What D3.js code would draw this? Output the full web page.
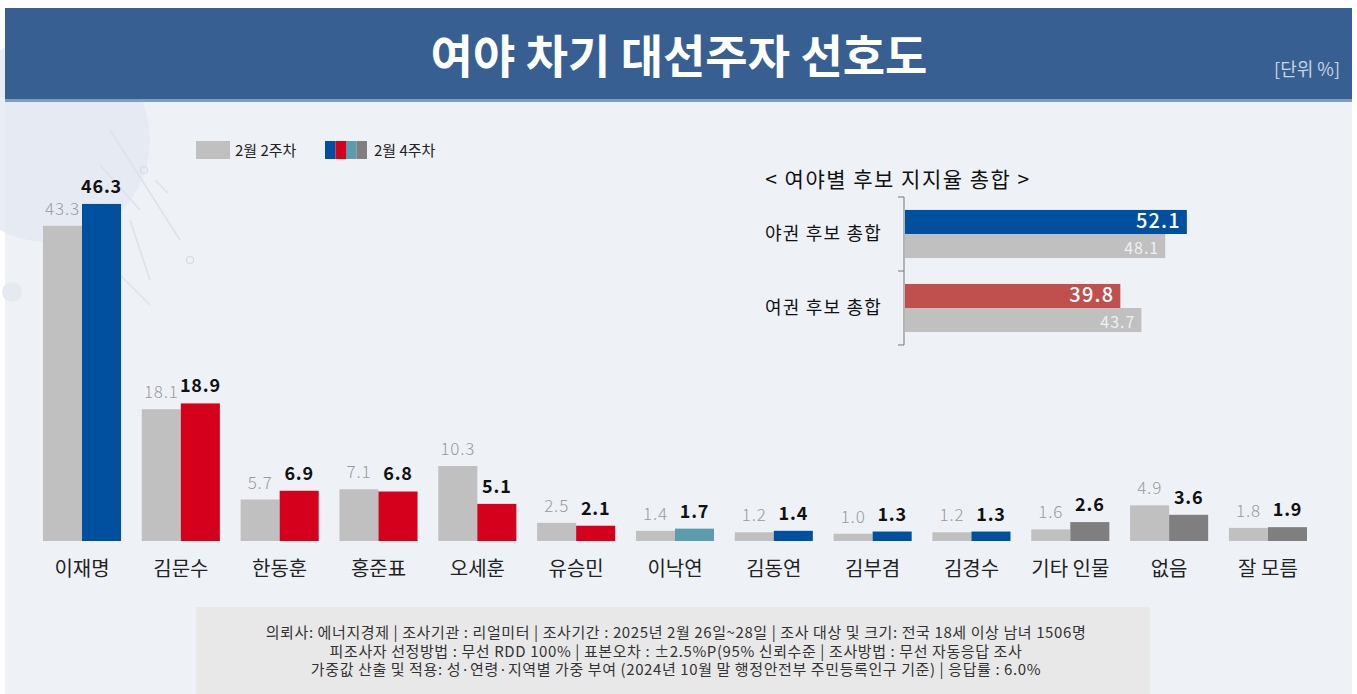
<!DOCTYPE html>
<html><head><meta charset="utf-8">
<script src="https://cdn.jsdelivr.net/npm/d3@7/dist/d3.min.js"></script>
<style>
html,body{margin:0;padding:0;background:#fff;}
svg{display:block;font-family:"Noto Sans CJK KR","Noto Sans",sans-serif;}
</style></head>
<body>
<svg id="c" width="1357" height="694"></svg>
<script>
// ---- data ----
const categories = ['이재명','김문수','한동훈','홍준표','오세훈','유승민','이낙연','김동연','김부겸','김경수','기타 인물','없음','잘 모름'];
const week2 = [43.3,18.1,5.7,7.1,10.3,2.5,1.4,1.2,1.0,1.2,1.6,4.9,1.8];
const week4 = [46.3,18.9,6.9,6.8,5.1,2.1,1.7,1.4,1.3,1.3,2.6,3.6,1.9];
const week4Group = ['opp','rul','rul','rul','rul','rul','teal','opp','opp','opp','etc','etc','etc'];
const seriesNames = ['2월 2주차','2월 4주차'];
const sumGroups = ['야권 후보 총합','여권 후보 총합'];
const sumWeek4 = [52.1, 39.8];
const sumWeek2 = [48.1, 43.7];
const footLines = [
  '의뢰사: 에너지경제  | 조사기관 : 리얼미터  |  조사기간 : 2025년 2월 26일~28일 | 조사 대상 및 크기: 전국 18세 이상 남녀 1506명',
  '피조사자 선정방법 : 무선 RDD 100% | 표본오차 : ±2.5%P(95% 신뢰수준 | 조사방법 : 무선 자동응답 조사',
  '가중값 산출 및 적용: 성·연령·지역별  가중 부여 (2024년 10월 말 행정안전부  주민등록인구  기준) | 응답률 : 6.0%'
];

const groupColor = {opp:'#0050a0', rul:'#d5001c', teal:'#5b9caf', etc:'#7f7f7f'};
const grayColor = '#c0c0c0';

const svg = d3.select('#c');

// ---- background ----
svg.append('rect').attr('x',5).attr('y',100).attr('width',1347).attr('height',594).attr('fill','#eef2f7');
const deco = svg.append('g');
deco.append('circle').attr('cx',48).attr('cy',140).attr('r',102).attr('fill','#e4e9f1').attr('opacity',0.8);
deco.append('circle').attr('cx',12).attr('cy',292).attr('r',10).attr('fill','#e5e9f0');
[[110,130,180,240],[100,165,140,210],[130,220,150,280],[120,275,150,305]].forEach(l=>{
  deco.append('line').attr('x1',l[0]).attr('y1',l[1]).attr('x2',l[2]).attr('y2',l[3]).attr('stroke','#dce2eb').attr('stroke-width',1.5);
});
deco.append('line').attr('x1',155).attr('y1',180).attr('x2',168).attr('y2',193).attr('stroke','#dce2eb').attr('stroke-width',1.5);
deco.append('circle').attr('cx',144).attr('cy',170).attr('r',3.5).attr('fill','none').attr('stroke','#d4dbe6').attr('stroke-width',1.2);
deco.append('circle').attr('cx',190).attr('cy',260).attr('r',3.5).attr('fill','none').attr('stroke','#d4dbe6').attr('stroke-width',1.2);

// ---- header ----
svg.append('rect').attr('x',5).attr('y',8).attr('width',1347).attr('height',92).attr('fill','#385f91');
svg.append('rect').attr('x',5).attr('y',99).attr('width',1347).attr('height',3).attr('fill','#7f9cc2');
svg.append('text').attr('x',679).attr('y',73).attr('text-anchor','middle')
  .attr('fill','#fff').attr('font-size',46).attr('font-weight',700).text('여야 차기 대선주자 선호도');
svg.append('text').attr('x',1340).attr('y',76).attr('text-anchor','end')
  .attr('fill','#c8d3e3').attr('font-size',18).text('[단위 %]');

// ---- main bar chart ----
const step = 98.83;
const x = d3.scaleBand().domain(categories)
  .range([82 - step/2, 82 - step/2 + step*categories.length])
  .paddingInner(0.21).paddingOuter(0.105);
const xs = d3.scaleBand().domain(seriesNames).range([0, x.bandwidth()]);
const y = d3.scaleLinear().domain([0,50]).range([541, 177]);

const g = svg.append('g');
const grp = g.selectAll('g.cat').data(categories).join('g').attr('class','cat')
  .attr('transform', d=>`translate(${x(d)},0)`);

grp.append('rect').attr('x',xs(seriesNames[0])).attr('width',xs.bandwidth())
  .attr('y',(d,i)=>y(week2[i])).attr('height',(d,i)=>y(0)-y(week2[i])).attr('fill',grayColor);
grp.append('rect').attr('x',xs(seriesNames[1])).attr('width',xs.bandwidth())
  .attr('y',(d,i)=>y(week4[i])).attr('height',(d,i)=>y(0)-y(week4[i])).attr('fill',(d,i)=>groupColor[week4Group[i]]);

grp.append('text').attr('x',xs(seriesNames[0])+xs.bandwidth()/2).attr('y',(d,i)=>y(week2[i])-11)
  .attr('text-anchor','middle').attr('font-size',17).attr('letter-spacing',0.8).attr('fill','#9a9a9a').attr('font-weight',300)
  .text((d,i)=>week2[i].toFixed(1));
grp.append('text').attr('x',xs(seriesNames[1])+xs.bandwidth()/2).attr('y',(d,i)=>y(week4[i])-11)
  .attr('text-anchor','middle').attr('font-size',18).attr('letter-spacing',0.8).attr('fill','#111').attr('font-weight',700)
  .text((d,i)=>week4[i].toFixed(1));

const xAxis = g.append('g').attr('transform','translate(0,541)')
  .call(d3.axisBottom(x).tickSize(0).tickPadding(21));
xAxis.select('.domain').remove();
xAxis.selectAll('text').attr('font-size',20).attr('fill','#222')
  .attr('font-family','"Noto Sans CJK KR",sans-serif');

// ---- legend ----
const leg = svg.append('g');
leg.append('rect').attr('x',196).attr('y',141).attr('width',34).attr('height',18).attr('fill',grayColor);
leg.append('text').attr('x',235).attr('y',155.5).attr('font-size',15).attr('fill','#222').text(seriesNames[0]);
const legCols = [groupColor.opp, groupColor.rul, groupColor.teal, groupColor.etc];
leg.selectAll('rect.seg').data(legCols).join('rect').attr('class','seg')
  .attr('x',(d,i)=>325+i*10.5).attr('y',141).attr('width',10.5).attr('height',18).attr('fill',d=>d);
leg.append('text').attr('x',374).attr('y',155.5).attr('font-size',15).attr('fill','#222').text(seriesNames[1]);

// ---- inset: totals ----
const ins = svg.append('g');
ins.append('text').attr('x',898).attr('y',187).attr('text-anchor','middle')
  .attr('font-size',21).attr('letter-spacing',1.5).attr('fill','#111').text('< 여야별 후보 지지율 총합 >');
const ix = d3.scaleLinear().domain([0,60]).range([905, 905+5.41*60]);
const iy = d3.scaleBand().domain(sumGroups).range([197,345]).paddingInner(0.35).paddingOuter(0.175);
const bh = iy.bandwidth()/2;
const iAxis = ins.append('g').attr('transform','translate(904,0)')
  .call(d3.axisLeft(iy).tickSize(0).tickPadding(22));
iAxis.select('.domain').attr('stroke','#777').attr('d','M-6,197H0V345H-6');
iAxis.selectAll('text').attr('font-size',18).attr('letter-spacing',1.2).attr('fill','#111')
  .attr('font-family','"Noto Sans CJK KR",sans-serif');
const midY = (iy(sumGroups[0])+iy.bandwidth()+iy(sumGroups[1]))/2;
ins.append('line').attr('x1',898).attr('x2',904).attr('y1',midY).attr('y2',midY).attr('stroke','#777');
const sumColors = ['#0050a0','#c0504d'];
sumGroups.forEach((gName,i)=>{
  const y0 = iy(gName);
  ins.append('rect').attr('x',ix(0)).attr('y',y0).attr('width',ix(sumWeek4[i])-ix(0)).attr('height',bh).attr('fill',sumColors[i]);
  ins.append('rect').attr('x',ix(0)).attr('y',y0+bh).attr('width',ix(sumWeek2[i])-ix(0)).attr('height',bh).attr('fill',grayColor);
  ins.append('text').attr('x',ix(sumWeek4[i])-6).attr('y',y0+bh/2+6.5).attr('text-anchor','end')
    .attr('font-size',20).attr('letter-spacing',1.2).attr('font-weight',500).attr('fill','#fff').text(sumWeek4[i].toFixed(1));
  ins.append('text').attr('x',ix(sumWeek2[i])-6).attr('y',y0+bh*1.5+8).attr('text-anchor','end')
    .attr('font-size',16).attr('letter-spacing',1).attr('fill','#eef0f3').text(sumWeek2[i].toFixed(1));
});

// ---- footnote ----
svg.append('rect').attr('x',196).attr('y',607).attr('width',954).attr('height',87).attr('fill','#e8e8e9');
svg.append('g').selectAll('text').data(footLines).join('text')
  .attr('x',676).attr('y',(d,i)=>638+i*18.5).attr('text-anchor','middle')
  .attr('font-size',15).attr('letter-spacing',0.6).attr('fill','#333').text(d=>d);
</script>
</body></html>
